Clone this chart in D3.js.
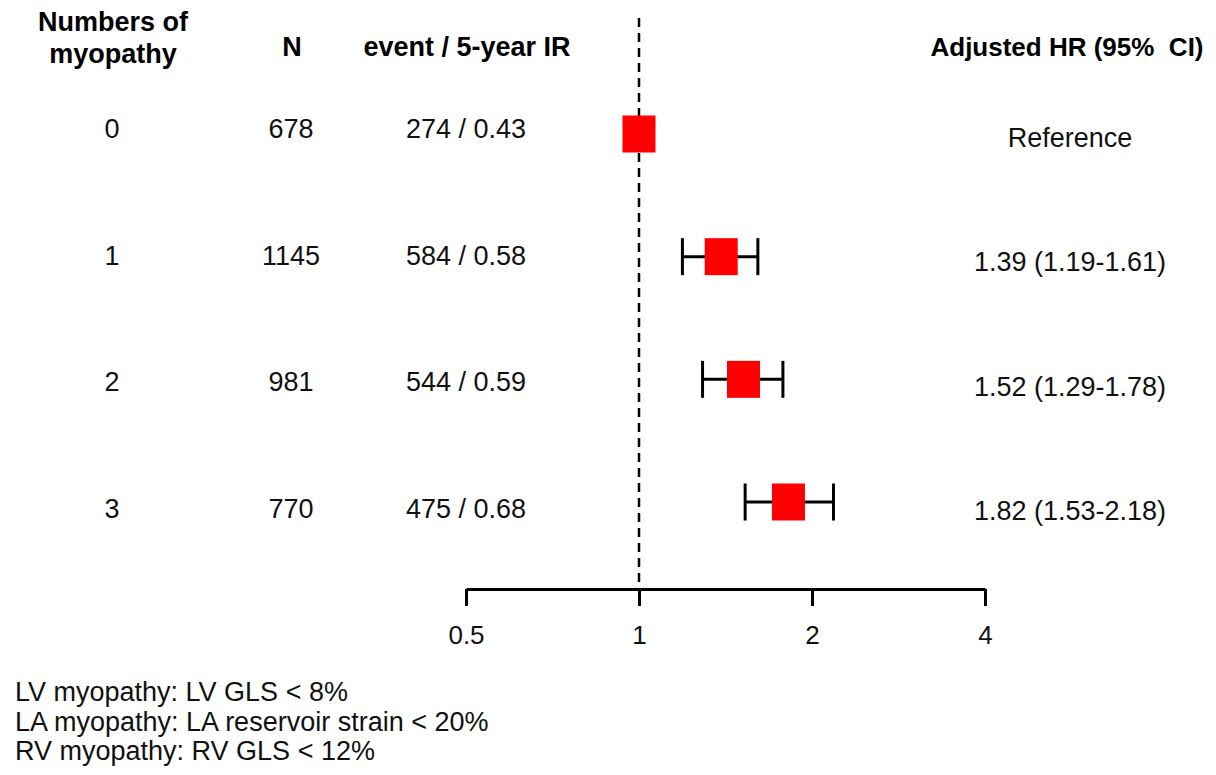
<!DOCTYPE html>
<html>
<head>
<meta charset="utf-8">
<script src="https://cdn.jsdelivr.net/npm/d3@7"></script>
<style>
  html, body { margin: 0; padding: 0; background: #fff; }
  svg { display: block; font-family: "Liberation Sans", Arial, sans-serif; }
</style>
</head>
<body>
<div id="chart-forest"></div>
<script>
"use strict";

/* ── Data ── */
const groups   = ["0", "1", "2", "3"];
const counts   = [678, 1145, 981, 770];
const events   = [274, 584, 544, 475];
const rates    = ["0.43", "0.58", "0.59", "0.68"];
const hr       = [1.00, 1.39, 1.52, 1.82];
const ciLow    = [null, 1.19, 1.29, 1.53];
const ciHigh   = [null, 1.61, 1.78, 2.18];
const xTicks   = [0.5, 1, 2, 4];
const footnotes = [
  "LV myopathy: LV GLS < 8%",
  "LA myopathy: LA reservoir strain < 20%",
  "RV myopathy: RV GLS < 12%"
];

const rows = groups.map((g, i) => ({
  group: g,
  n: counts[i],
  ir: `${events[i]} / ${rates[i]}`,
  hr: hr[i],
  lo: ciLow[i],
  hi: ciHigh[i],
  label: ciLow[i] == null
    ? "Reference"
    : `${hr[i].toFixed(2)} (${ciLow[i].toFixed(2)}-${ciHigh[i].toFixed(2)})`
}));

/* ── Dimensions ── */
const width  = 1216;
const height = 775;
const axisY  = 589;
const fs     = 27;   // body text
const fsHead = 27;   // bold headers

const svg = d3.select("#chart-forest")
  .append("svg")
  .attr("width", width)
  .attr("height", height);

svg.append("rect").attr("width", width).attr("height", height).attr("fill", "#fff");

/* ── Scales ── */
const x = d3.scaleLog().domain([0.5, 4]).range([466, 985]);
const yMark  = d3.scalePoint().domain(groups).range([134, 502]);
const yText  = d3.scalePoint().domain(groups).range([138, 518]);
const yRight = d3.scalePoint().domain(groups).range([147, 520]);

/* ── Headers ── */
const head = svg.append("g")
  .attr("font-size", fsHead + "px")
  .attr("font-weight", "700")
  .attr("fill", "#000")
  .attr("text-anchor", "middle");

head.append("text").attr("x", 113).attr("y", 31).text("Numbers of");
head.append("text").attr("x", 113).attr("y", 63).text("myopathy");
head.append("text").attr("x", 292).attr("y", 56).text("N");
head.append("text").attr("x", 467).attr("y", 56).text("event / 5-year IR");
head.append("text").attr("x", 1067).attr("y", 56)
  .attr("font-size", "26px")
  .attr("xml:space", "preserve").text("Adjusted HR (95%  CI)");

/* ── Table columns ── */
const body = svg.append("g")
  .attr("font-size", fs + "px")
  .attr("fill", "#111")
  .attr("text-anchor", "middle");

body.selectAll("text.col-group")
  .data(rows).join("text")
  .attr("class", "col-group")
  .attr("x", 112).attr("y", d => yText(d.group))
  .text(d => d.group);

body.selectAll("text.col-n")
  .data(rows).join("text")
  .attr("class", "col-n")
  .attr("x", 291).attr("y", d => yText(d.group))
  .text(d => d.n);

body.selectAll("text.col-ir")
  .data(rows).join("text")
  .attr("class", "col-ir")
  .attr("x", 466).attr("y", d => yText(d.group))
  .text(d => d.ir);

body.selectAll("text.col-hr")
  .data(rows).join("text")
  .attr("class", "col-hr")
  .attr("x", 1070).attr("y", d => yRight(d.group))
  .text(d => d.label);

/* ── Reference line ── */
svg.append("line")
  .attr("x1", x(1)).attr("x2", x(1))
  .attr("y1", 18).attr("y2", axisY)
  .attr("stroke", "#000")
  .attr("stroke-width", 2.5)
  .attr("stroke-dasharray", "9,6");

/* ── Axis ── */
const axis = svg.append("g")
  .attr("transform", `translate(0,${axisY})`)
  .call(d3.axisBottom(x)
    .tickValues(xTicks)
    .tickFormat(d => String(d))
    .tickSizeInner(17)
    .tickSizeOuter(0)
    .tickPadding(20));

axis.select(".domain").attr("stroke", "#000").attr("stroke-width", 3);
axis.selectAll(".tick line").attr("stroke", "#000").attr("stroke-width", 3);
axis.selectAll(".tick text")
  .attr("font-size", "26px")
  .attr("font-family", "'Liberation Sans', Arial, sans-serif")
  .attr("fill", "#111");

/* ── Confidence intervals ── */
const ci = rows.filter(d => d.lo != null);
const capH = 37;

svg.selectAll("line.ci")
  .data(ci).join("line")
  .attr("class", "ci")
  .attr("x1", d => x(d.lo)).attr("x2", d => x(d.hi))
  .attr("y1", d => yMark(d.group)).attr("y2", d => yMark(d.group))
  .attr("stroke", "#000").attr("stroke-width", 3);

["lo", "hi"].forEach(k => {
  svg.selectAll("line.cap-" + k)
    .data(ci).join("line")
    .attr("class", "cap-" + k)
    .attr("x1", d => x(d[k])).attr("x2", d => x(d[k]))
    .attr("y1", d => yMark(d.group) - capH / 2)
    .attr("y2", d => yMark(d.group) + capH / 2)
    .attr("stroke", "#000").attr("stroke-width", 3);
});

/* ── Point estimates ── */
const boxW = 33, boxH = 37;
svg.selectAll("rect.est")
  .data(rows).join("rect")
  .attr("class", "est")
  .attr("x", d => x(d.hr) - boxW / 2)
  .attr("y", d => yMark(d.group) - boxH / 2)
  .attr("width", boxW).attr("height", boxH)
  .attr("fill", "#ff0000");

/* ── Footnotes ── */
svg.append("g")
  .attr("font-size", fs + "px")
  .attr("fill", "#111")
  .selectAll("text")
  .data(footnotes).join("text")
  .attr("x", 15)
  .attr("y", (d, i) => 701 + i * 29.5)
  .text(d => d);
</script>
</body>
</html>
